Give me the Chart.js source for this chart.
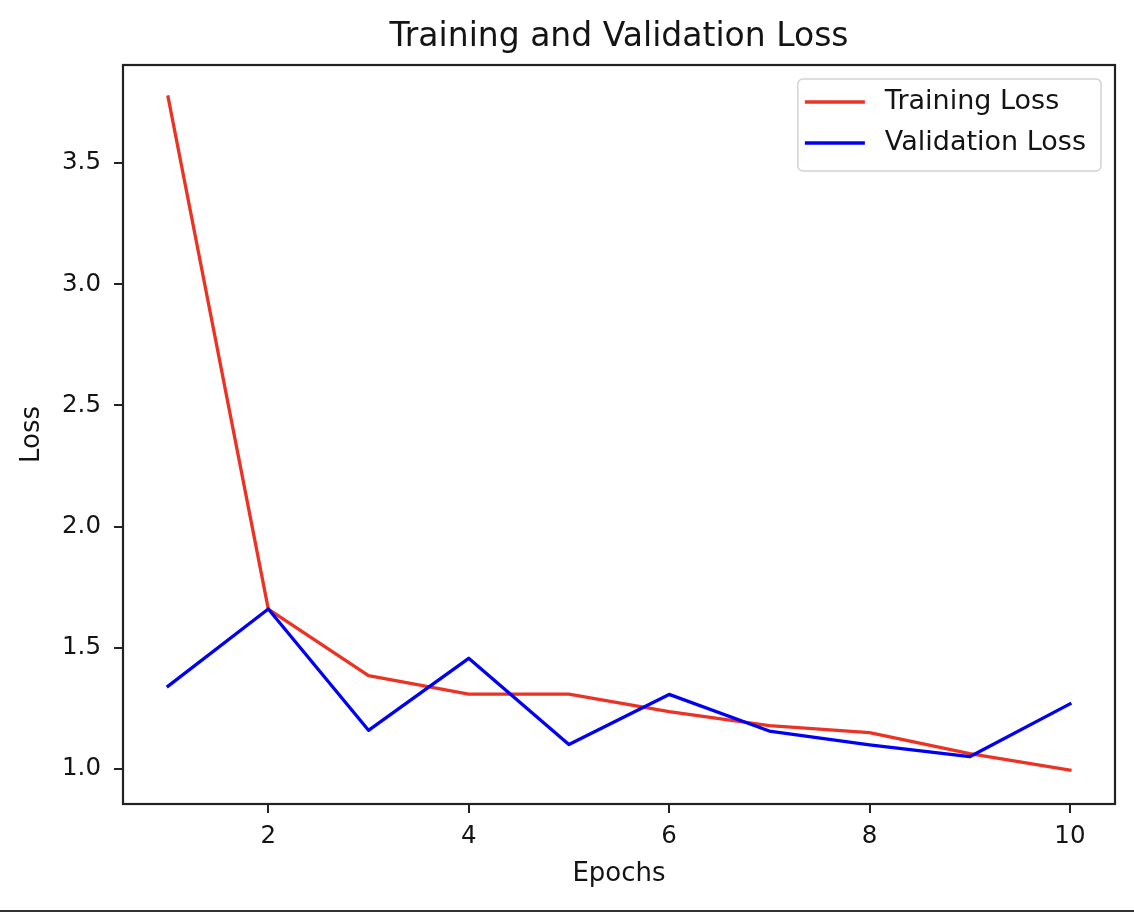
<!DOCTYPE html>
<html lang="en">
<head>
    <meta charset="UTF-8">
    <title>Training and Validation Loss</title>
    <script src="https://cdn.jsdelivr.net/npm/chart.js"></script>
    <style>
        html, body { margin: 0; padding: 0; background: #fff; }
        #wrap { position: relative; width: 1134px; height: 912px; }
        #edge { position: absolute; left: 0; top: 910px; width: 1134px; height: 2px; background: #333; }
    </style>
</head>
<body>
<div id="wrap">
    <canvas id="lossChart" width="1134" height="912"></canvas>
    <div id="edge"></div>
</div>

<script>
    // --- data ---
    const epochs = [1, 2, 3, 4, 5, 6, 7, 8, 9, 10];
    const trainingLoss = [3.772, 1.660, 1.385, 1.309, 1.309, 1.237, 1.179, 1.150, 1.064, 0.996];
    const validationLoss = [1.342, 1.660, 1.160, 1.457, 1.101, 1.308, 1.157, 1.100, 1.051, 1.269];
    const xTicks = [2, 4, 6, 8, 10];
    const yTicks = [1.0, 1.5, 2.0, 2.5, 3.0, 3.5];

    const RED = '#ec3323';
    const BLUE = '#0000f5';
    const INK = '#141414';
    const FONT = "'DejaVu Sans', sans-serif";

    Chart.defaults.font.family = FONT;
    Chart.defaults.color = INK;

    // matplotlib style frame round the plot area
    const framePlugin = {
        id: 'frame',
        afterDatasetsDraw(chart) {
            const { ctx, chartArea: a } = chart;
            ctx.save();
            ctx.strokeStyle = '#222';
            ctx.lineWidth = 2.2;
            ctx.strokeRect(a.left, a.top, a.right - a.left, a.bottom - a.top);
            ctx.restore();
        }
    };

    // legend box in the upper right corner, inside the axes
    const boxLegend = {
        id: 'boxLegend',
        afterDraw(chart) {
            const { ctx, chartArea: a } = chart;
            const sets = [chart.data.datasets[0], chart.data.datasets[1]];
            ctx.save();
            ctx.font = "27px " + FONT;
            const textW = Math.max(...sets.map(s => ctx.measureText(s.label).width));
            const w = 7 + 60 + 20 + textW + 15;
            const h = 92;
            const x = a.right - 14 - w;
            const y = a.top + 14;
            ctx.beginPath();
            ctx.roundRect(x, y, w, h, 5);
            ctx.fillStyle = 'rgba(255,255,255,0.8)';
            ctx.fill();
            ctx.strokeStyle = '#d2d2d2';
            ctx.lineWidth = 1.5;
            ctx.stroke();
            sets.forEach((s, i) => {
                const cy = y + 23 + i * 41;
                ctx.beginPath();
                ctx.moveTo(x + 7, cy);
                ctx.lineTo(x + 67, cy);
                ctx.strokeStyle = s.borderColor;
                ctx.lineWidth = 3.3;
                ctx.stroke();
                ctx.fillStyle = INK;
                ctx.textBaseline = 'middle';
                ctx.textAlign = 'left';
                ctx.fillText(s.label, x + 87, cy);
            });
            ctx.restore();
        }
    };

    new Chart(document.getElementById('lossChart'), {
        type: 'line',
        data: {
            labels: epochs,
            datasets: [{
                label: 'Training Loss',
                data: epochs.map((e, i) => ({ x: e, y: trainingLoss[i] })),
                borderColor: RED,
                order: 2
            }, {
                label: 'Validation Loss',
                data: epochs.map((e, i) => ({ x: e, y: validationLoss[i] })),
                borderColor: BLUE,
                order: 1
            }]
        },
        options: {
            responsive: false,
            devicePixelRatio: 1,
            animation: false,
            layout: { padding: { left: 0, right: 19, top: 0, bottom: 0 } },
            elements: {
                line: { borderWidth: 3.3, tension: 0, fill: false, borderJoinStyle: 'round', borderCapStyle: 'square' },
                point: { radius: 0, hoverRadius: 0 }
            },
            plugins: {
                legend: { display: false },
                tooltip: { enabled: false },
                title: {
                    display: true,
                    fullSize: false,
                    text: 'Training and Validation Loss',
                    color: INK,
                    font: { size: 33, weight: 'normal' },
                    padding: { top: 17.5, bottom: 7.9 }
                }
            },
            scales: {
                x: {
                    type: 'linear',
                    min: 0.55,
                    max: 10.45,
                    afterFit(scale) { scale.height = 108; },
                    afterBuildTicks(scale) { scale.ticks = xTicks.map(v => ({ value: v })); },
                    border: { display: false },
                    grid: { drawOnChartArea: false, drawTicks: true, tickLength: 9, color: '#222', lineWidth: 2 },
                    ticks: { padding: 9, font: { size: 24.5 }, color: INK, maxRotation: 0, callback: v => String(v) },
                    title: { display: true, text: 'Epochs', font: { size: 26 }, color: INK, padding: { top: 0, bottom: 22.4 } }
                },
                y: {
                    type: 'linear',
                    min: 0.856,
                    max: 3.904,
                    afterFit(scale) { scale.width = 123; },
                    afterBuildTicks(scale) { scale.ticks = yTicks.map(v => ({ value: v })); },
                    border: { display: false },
                    grid: { drawOnChartArea: false, drawTicks: true, tickLength: 9, color: '#222', lineWidth: 2 },
                    ticks: { padding: 13, font: { size: 24.5 }, color: INK, callback: v => v.toFixed(1) },
                    title: { display: true, text: 'Loss', font: { size: 26 }, color: INK, padding: { top: 17, bottom: 0 } }
                }
            }
        },
        plugins: [framePlugin, boxLegend]
    });
</script>
</body>
</html>
